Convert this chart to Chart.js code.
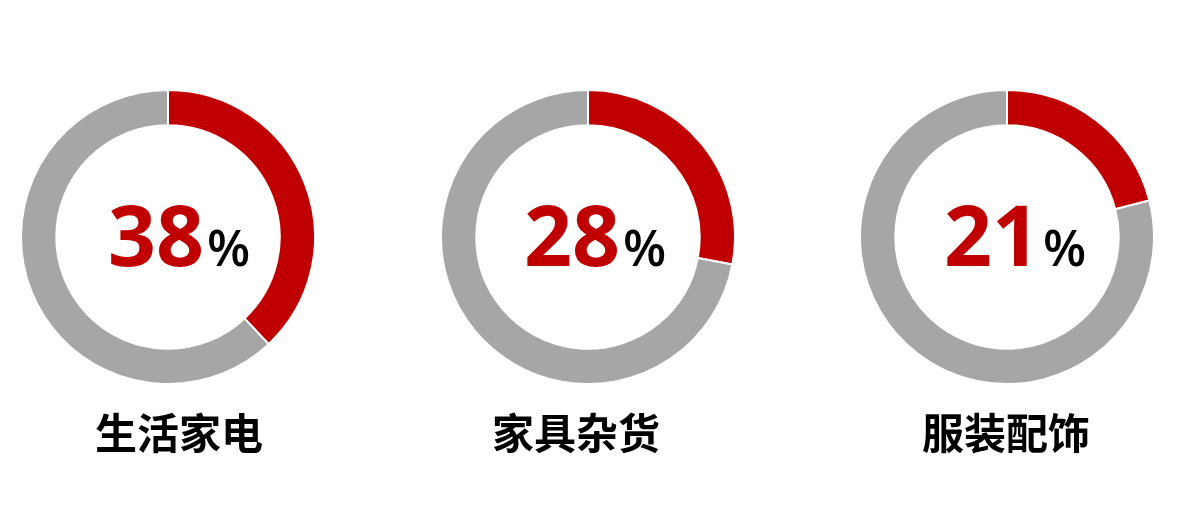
<!DOCTYPE html>
<html>
<head>
<meta charset="utf-8">
<script src="https://cdn.jsdelivr.net/npm/chart.js@4/dist/chart.umd.min.js"></script>
<style>
  html, body { margin: 0; padding: 0; background: #fff; }
  body { width: 1178px; height: 526px; position: relative; overflow: hidden; }
  .ring { position: absolute; top: 89px; width: 296px; height: 404px; }
</style>
</head>
<body>
<div class="ring" style="left:20px"><canvas id="c0"></canvas></div>
<div class="ring" style="left:440px"><canvas id="c1"></canvas></div>
<div class="ring" style="left:859px"><canvas id="c2"></canvas></div>
<script>
const categories = ['生活家电', '家具杂货', '服装配饰'];
const shares = [38, 28, 21];
const remainders = shares.map(v => 100 - v);

// label nudges so the captions land where the original text boxes sit
const labelShift = [11, -12, -1];
const textShift = [11, 7, 8];

const RED = '#C00000';
const GREY = '#A6A6A6';

const centerText = {
  id: 'centerText',
  afterDraw(chart, args, opts) {
    const { ctx } = chart;
    const arc = chart.getDatasetMeta(0).data[0];
    if (!arc) return;
    const cx = arc.x, cy = arc.y;
    const num = String(opts.value);
    const numFont = 'bold 84px "Open Sans", "Noto Sans", sans-serif';
    const pctFont = '600 50px "Open Sans", "Noto Sans", sans-serif';
    ctx.save();
    ctx.textBaseline = 'alphabetic';
    ctx.font = numFont;
    const wNum = ctx.measureText(num).width;
    ctx.font = pctFont;
    const wPct = ctx.measureText('%').width;
    const gap = 3;
    const x = cx + opts.textShift - (wNum + gap + wPct) / 2;
    const base = cy + 29;
    ctx.textAlign = 'left';
    ctx.fillStyle = RED;
    ctx.font = numFont;
    ctx.fillText(num, x, base);
    ctx.fillStyle = '#000';
    ctx.font = pctFont;
    ctx.fillText('%', x + wNum + gap, base);
    ctx.font = 'bold 42px "Noto Sans CJK SC", sans-serif';
    ctx.textAlign = 'center';
    ctx.textBaseline = 'middle';
    ctx.fillText(opts.label, cx + opts.labelShift, cy + 196);
    ctx.restore();
  }
};

categories.forEach((name, i) => {
  new Chart(document.getElementById('c' + i), {
    type: 'doughnut',
    data: {
      labels: ['占比', '其他'],
      datasets: [{
        data: [shares[i], remainders[i]],
        backgroundColor: [RED, GREY],
        borderColor: '#fff',
        borderWidth: 2
      }]
    },
    options: {
      responsive: true, maintainAspectRatio: false, animation: false,
      cutout: '76%',
      layout: { padding: { bottom: 108 } },
      plugins: {
        legend: { display: false },
        tooltip: { enabled: false },
        centerText: { value: shares[i], label: name, labelShift: labelShift[i], textShift: textShift[i] }
      }
    },
    plugins: [centerText]
  });
});
</script>
</body>
</html>
